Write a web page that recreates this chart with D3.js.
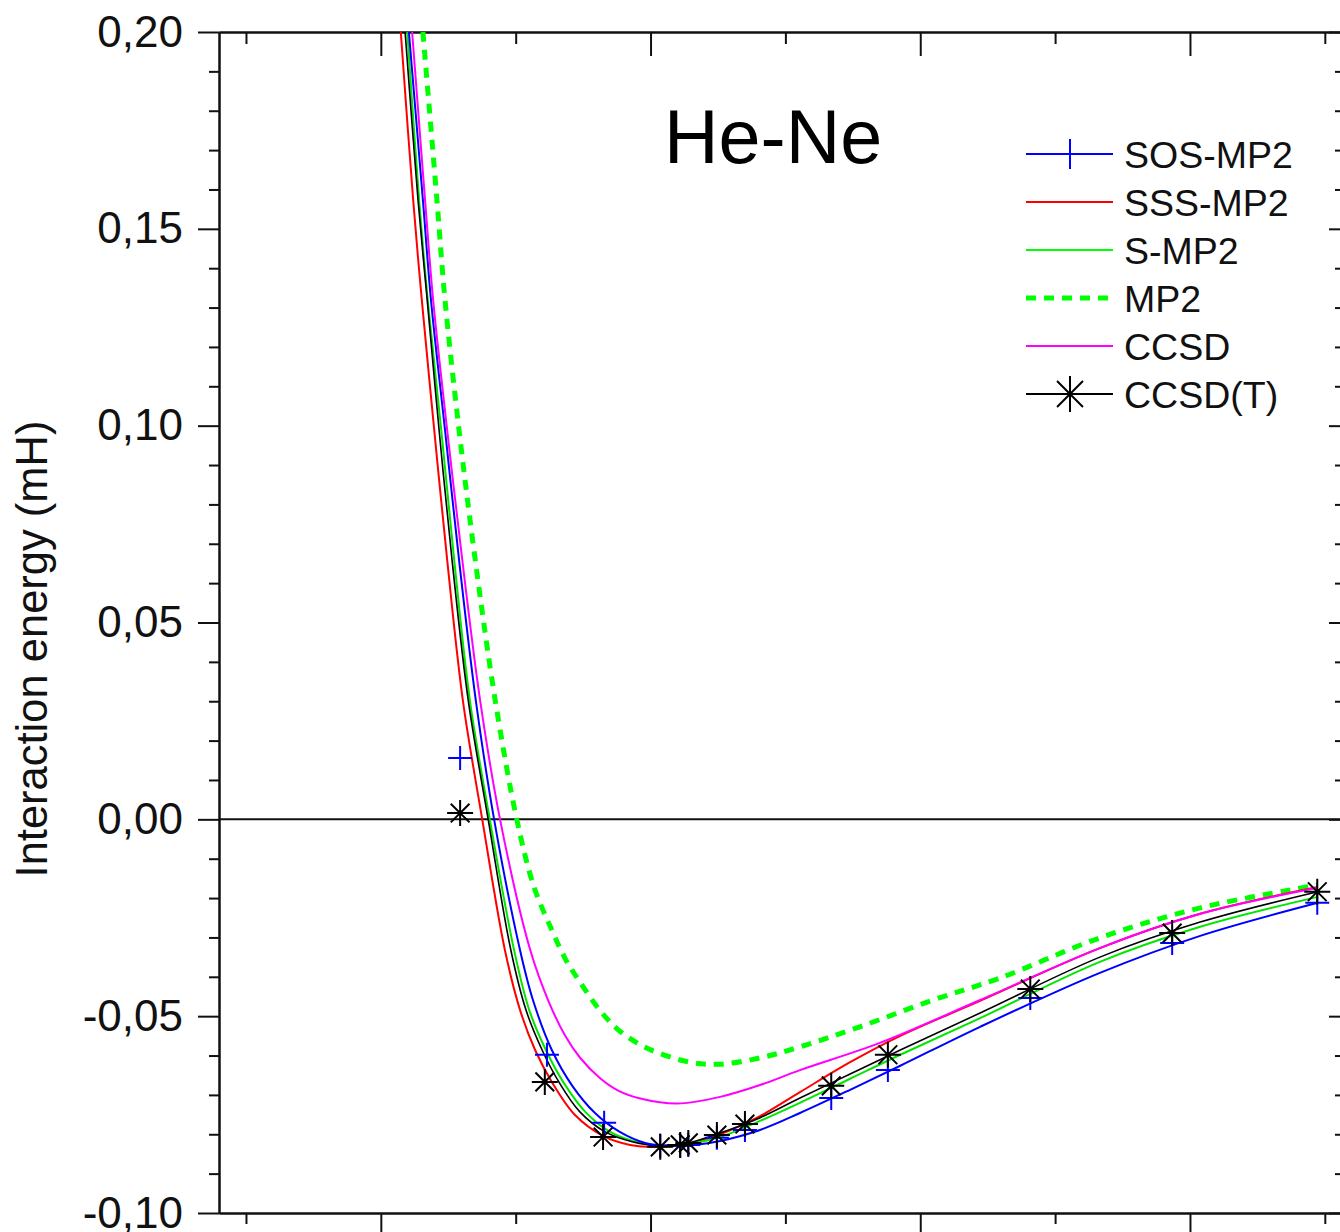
<!DOCTYPE html>
<html>
<head>
<meta charset="utf-8">
<script src="https://cdn.jsdelivr.net/npm/d3@7"></script>
<style>
  body { margin: 0; background: #fff; }
  svg { display: block; font-family: "Liberation Sans", Arial, sans-serif; }
  .axis path, .axis line { stroke: #111; stroke-width: 2; }
  .axis text { font-size: 44px; fill: #111; font-family: "Liberation Sans", Arial, sans-serif; }
</style>
</head>
<body>
<svg width="1340" height="1232"></svg>
<script>
// curves: [distance, energy in mH]
const sosMp2 = [[2.552,0.2],[2.578,0.1573],[2.593,0.1319],[2.619,0.0989],[2.645,0.0659],[2.676,0.0303],[2.71,0],[2.758,-0.0332],[2.782,-0.0459],[2.817,-0.0586],[2.854,-0.0675],[2.897,-0.0746],[2.943,-0.0794],[2.99,-0.0822],[3.032,-0.0829],[3.082,-0.0827],[3.129,-0.0817],[3.203,-0.0789],[3.277,-0.0746],[3.37,-0.0687],[3.463,-0.0626],[3.611,-0.0527],[3.833,-0.039],[4.019,-0.0296],[4.237,-0.0212]];
const sssMp2 = [[2.537,0.2],[2.56,0.1573],[2.576,0.1319],[2.599,0.0989],[2.623,0.0659],[2.652,0.0303],[2.688,0],[2.73,-0.0332],[2.758,-0.0484],[2.786,-0.0586],[2.817,-0.0667],[2.86,-0.0751],[2.912,-0.0804],[2.962,-0.0827],[3.008,-0.0832],[3.064,-0.0826],[3.129,-0.08],[3.203,-0.0754],[3.277,-0.0693],[3.37,-0.0617],[3.463,-0.055],[3.611,-0.0461],[3.833,-0.0327],[4.019,-0.024],[4.237,-0.0172]];
const sMp2 = [[2.549,0.2],[2.571,0.1573],[2.587,0.1319],[2.612,0.0989],[2.636,0.0659],[2.665,0.0303],[2.702,0],[2.747,-0.0332],[2.775,-0.0484],[2.806,-0.0586],[2.838,-0.0667],[2.879,-0.0743],[2.925,-0.0794],[2.981,-0.0822],[3.027,-0.0829],[3.073,-0.0824],[3.129,-0.0807],[3.203,-0.0766],[3.277,-0.072],[3.37,-0.0659],[3.463,-0.0598],[3.611,-0.0505],[3.833,-0.0362],[4.019,-0.0273],[4.237,-0.0197]];
const mp2 = [[2.578,0.2],[2.604,0.1573],[2.619,0.1319],[2.645,0.0989],[2.675,0.0659],[2.712,0.0303],[2.752,0],[2.784,-0.0172],[2.817,-0.0281],[2.843,-0.0357],[2.869,-0.0413],[2.906,-0.0485],[2.938,-0.0532],[2.975,-0.0568],[3.008,-0.059],[3.073,-0.0617],[3.129,-0.0622],[3.203,-0.0606],[3.277,-0.0578],[3.388,-0.0527],[3.524,-0.0459],[3.648,-0.0403],[3.833,-0.0301],[4.019,-0.0225],[4.237,-0.0167]];
const ccsd = [[2.558,0.2],[2.582,0.1573],[2.597,0.1319],[2.623,0.0989],[2.651,0.0659],[2.684,0.0303],[2.721,0],[2.777,-0.0332],[2.81,-0.0459],[2.841,-0.0548],[2.869,-0.0605],[2.906,-0.0657],[2.94,-0.0689],[2.981,-0.0709],[3.049,-0.0722],[3.129,-0.0705],[3.203,-0.0675],[3.277,-0.0637],[3.425,-0.0568],[3.611,-0.0459],[3.833,-0.0327],[4.019,-0.024],[4.237,-0.0174]];
const ccsdT = [[2.545,0.2],[2.569,0.1573],[2.586,0.1319],[2.608,0.0989],[2.632,0.0659],[2.662,0.0303],[2.699,0],[2.741,-0.0332],[2.769,-0.0484],[2.799,-0.0586],[2.83,-0.0667],[2.869,-0.0743],[2.916,-0.0794],[2.966,-0.0819],[3.018,-0.0829],[3.07,-0.0822],[3.129,-0.0797],[3.203,-0.0758],[3.277,-0.0708],[3.37,-0.0647],[3.463,-0.0586],[3.611,-0.0492],[3.833,-0.035],[4.019,-0.0261],[4.237,-0.0184]];

// computed points (markers)
const sosMp2Points = [[2.647,0.0156],[2.808,-0.0598],[2.914,-0.0771],[3.018,-0.0829],[3.055,-0.0829],[3.07,-0.0827],[3.123,-0.0809],[3.175,-0.0789],[3.335,-0.0708],[3.44,-0.0637],[3.704,-0.0454],[3.967,-0.0314],[4.236,-0.0212]];
const ccsdTPoints = [[2.647,0.0016],[2.804,-0.0667],[2.912,-0.0807],[3.018,-0.0832],[3.055,-0.0827],[3.07,-0.0822],[3.123,-0.0802],[3.175,-0.0774],[3.335,-0.0677],[3.44,-0.0598],[3.704,-0.0431],[3.967,-0.0289],[4.236,-0.0184]];

const seriesNames = ["SOS-MP2", "SSS-MP2", "S-MP2", "MP2", "CCSD", "CCSD(T)"];
const yMajorTicks = [-0.1, -0.05, 0, 0.05, 0.1, 0.15, 0.2];
const xMajorTicks = [2.5, 3.0, 3.5, 4.0];
const xMinorTicks = [2.25, 2.75, 3.25, 3.75, 4.25];
const title = "He-Ne";
const yLabelAxis = "Interaction energy (mH)";

const svg = d3.select("svg");
const margin = { left: 219, top: 32, right: 1341, bottom: 1213 };

const xScale = d3.scaleLinear().domain([2.2, 4.28]).range([margin.left, margin.right]);
const yScale = d3.scaleLinear().domain([-0.1, 0.2]).range([margin.bottom, margin.top]);
const yMinorTicks = d3.range(-10, 21).map((d) => d / 100).filter((d) => Math.round(d * 100) % 5 !== 0);

const locale = d3.formatLocale({ decimal: ",", thousands: ".", grouping: [3], currency: ["", ""], minus: "-" });
const fmt = locale.format(".2f");

svg.append("defs").append("clipPath").attr("id", "plot")
  .append("rect")
  .attr("x", margin.left).attr("y", margin.top)
  .attr("width", margin.right - margin.left).attr("height", margin.bottom - margin.top);

// axes
const axisG = (cls) => svg.append("g").attr("class", "axis " + cls);
axisG("left-minor").attr("transform", `translate(${margin.left},0)`)
  .call(d3.axisLeft(yScale).tickValues(yMinorTicks).tickSize(10).tickSizeOuter(0).tickFormat(""));
axisG("left").attr("transform", `translate(${margin.left},0)`)
  .call(d3.axisLeft(yScale).tickValues(yMajorTicks).tickSize(21).tickSizeOuter(0).tickPadding(15).tickFormat(fmt));
axisG("right-minor").attr("transform", `translate(${margin.right},0)`)
  .call(d3.axisRight(yScale).tickValues(yMinorTicks).tickSize(-6).tickSizeOuter(0).tickFormat(""));
axisG("right").attr("transform", `translate(${margin.right},0)`)
  .call(d3.axisRight(yScale).tickValues(yMajorTicks).tickSize(-12).tickSizeOuter(0).tickFormat(""));
axisG("top-minor").attr("transform", `translate(0,${margin.top})`)
  .call(d3.axisTop(xScale).tickValues(xMinorTicks).tickSize(-12).tickSizeOuter(0).tickFormat(""));
axisG("top").attr("transform", `translate(0,${margin.top})`)
  .call(d3.axisTop(xScale).tickValues(xMajorTicks).tickSize(-24).tickSizeOuter(0).tickFormat(""));
axisG("bottom-minor").attr("transform", `translate(0,${margin.bottom})`)
  .call(d3.axisBottom(xScale).tickValues(xMinorTicks).tickSize(11).tickSizeOuter(0).tickFormat(""));
axisG("bottom").attr("transform", `translate(0,${margin.bottom})`)
  .call(d3.axisBottom(xScale).tickValues(xMajorTicks).tickSize(22).tickSizeOuter(0).tickFormat(""));

// zero line
svg.append("line")
  .attr("x1", margin.left).attr("x2", margin.right)
  .attr("y1", yScale(0)).attr("y2", yScale(0))
  .attr("stroke", "#111").attr("stroke-width", 2);

// curves
const line = d3.line().x((d) => xScale(d[0])).y((d) => yScale(d[1])).curve(d3.curveCatmullRom.alpha(0.5));
const curves = [
  { data: mp2, color: "#00ff00", width: 5, dash: "10,8" },
  { data: sssMp2, color: "#ff0000", width: 2 },
  { data: sMp2, color: "#00e600", width: 2 },
  { data: ccsdT, color: "#000", width: 1.6 },
  { data: sosMp2, color: "#0000ff", width: 2 },
  { data: ccsd, color: "#ff00ff", width: 2 },
];
const plot = svg.append("g").attr("clip-path", "url(#plot)");
curves.forEach((c) => {
  plot.append("path")
    .attr("d", line(c.data))
    .attr("fill", "none")
    .attr("stroke", c.color)
    .attr("stroke-width", c.width)
    .attr("stroke-dasharray", c.dash || null);
});

// markers
const plus = (r) => `M${-r},0H${r}M0,${-r}V${r}`;
const star = (r) => {
  const d = r * 0.72;
  return plus(r) + `M${-d},${-d}L${d},${d}M${-d},${d}L${d},${-d}`;
};
plot.selectAll(".plus").data(sosMp2Points).enter().append("path")
  .attr("transform", (d) => `translate(${xScale(d[0])},${yScale(d[1])})`)
  .attr("d", plus(12)).attr("stroke", "#0000ff").attr("stroke-width", 2);
plot.selectAll(".star").data(ccsdTPoints).enter().append("path")
  .attr("transform", (d) => `translate(${xScale(d[0])},${yScale(d[1])})`)
  .attr("d", star(13)).attr("stroke", "#000").attr("stroke-width", 2);

// title
svg.append("text").text(title)
  .attr("x", 664).attr("y", 163)
  .attr("font-size", 75.5).attr("fill", "#000");

// y axis label
svg.append("text").text(yLabelAxis)
  .attr("transform", "rotate(-90)")
  .attr("x", -649).attr("y", 47)
  .attr("text-anchor", "middle")
  .attr("font-size", 43.5).attr("fill", "#111");

// legend
const legendStyle = [
  { color: "#0000ff", width: 2, marker: "plus" },
  { color: "#ff0000", width: 2 },
  { color: "#00ff00", width: 2 },
  { color: "#00ff00", width: 5, dash: "10,8" },
  { color: "#ff00ff", width: 2 },
  { color: "#000", width: 2, marker: "star" },
];
const legend = svg.append("g").attr("transform", "translate(1026,154)");
seriesNames.forEach((name, i) => {
  const row = legend.append("g").attr("transform", `translate(0,${i * 48})`);
  const s = legendStyle[i];
  row.append("line").attr("x1", 0).attr("x2", 87).attr("y1", 0).attr("y2", 0)
    .attr("stroke", s.color).attr("stroke-width", s.width)
    .attr("stroke-dasharray", s.dash || null);
  if (s.marker === "plus") {
    row.append("path").attr("transform", "translate(44,0)").attr("d", plus(15))
      .attr("stroke", s.color).attr("stroke-width", 2);
  }
  if (s.marker === "star") {
    row.append("path").attr("transform", "translate(44,0)").attr("d", star(18))
      .attr("stroke", s.color).attr("stroke-width", 2);
  }
  row.append("text").text(name)
    .attr("x", 98).attr("dy", "0.36em")
    .attr("font-size", 37.5).attr("fill", "#111");
});
</script>
</body>
</html>
